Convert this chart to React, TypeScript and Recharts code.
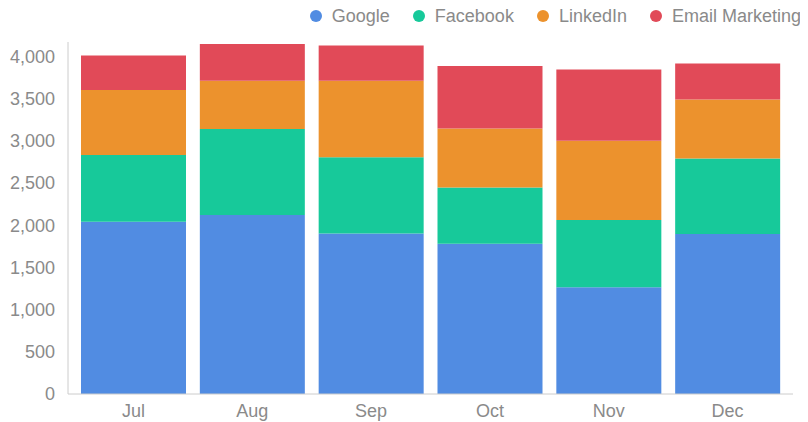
import React from "react";
import { BarChart, Bar, XAxis, YAxis } from "recharts";

const months = ["Jul", "Aug", "Sep", "Oct", "Nov", "Dec"];
const google = [2040, 2120, 1900, 1780, 1265, 1895];
const facebook = [790, 1020, 905, 665, 795, 895];
const linkedin = [770, 570, 905, 700, 940, 700];
const email = [410, 435, 420, 740, 845, 425];
const yTicks = [0, 500, 1000, 1500, 2000, 2500, 3000, 3500, 4000];

const seriesNames = ["Google", "Facebook", "LinkedIn", "Email Marketing"];
const seriesKeys = ["google", "facebook", "linkedin", "email"];
const colors = ["#518ce2", "#17c99a", "#ec922d", "#e14a58"];

const data = months.map((m, i) => ({
  month: m,
  google: google[i],
  facebook: facebook[i],
  linkedin: linkedin[i],
  email: email[i],
}));

const FONT = "'Liberation Sans', Arial, sans-serif";

export default function App() {
  return (
    <div style={{ position: "relative", width: 800, height: 414, fontFamily: FONT }}>
      <div
        style={{
          position: "absolute",
          top: -1,
          right: 7,
          display: "flex",
          alignItems: "center",
          fontSize: 18,
          lineHeight: "18px",
          color: "#8a8a8a",
          whiteSpace: "nowrap",
        }}
      >
        {seriesNames.map((n, i) => (
          <div key={n} style={{ display: "flex", alignItems: "center", marginLeft: i === 0 ? 0 : 23 }}>
            <span
              style={{
                width: 12,
                height: 12,
                borderRadius: 6,
                background: colors[i],
                display: "inline-block",
                marginRight: 10,
              }}
            />
            <span>{n}</span>
          </div>
        ))}
      </div>
      <BarChart
        width={800}
        height={414}
        data={data}
        margin={{ top: 34, right: 15, bottom: 0, left: 0 }}
        barCategoryGap={7}
      >
        <XAxis
          dataKey="month"
          height={28}
          padding={{ left: 6, right: 6 }}
          tickLine={false}
          tickSize={0}
          tickMargin={10}
          axisLine={{ stroke: "#cccccc" }}
          tick={{ fill: "#8a8a8a", fontSize: 18, fontFamily: FONT }}
        />
        <YAxis
          width={60}
          domain={[0, 4170]}
          ticks={yTicks}
          tickFormatter={(v: number) => v.toLocaleString("en-US")}
          tickLine={false}
          tickSize={0}
          tickMargin={13}
          axisLine={{ stroke: "#cccccc" }}
          tick={{ fill: "#8a8a8a", fontSize: 18, fontFamily: FONT }}
        />
        {seriesKeys.map((k, i) => (
          <Bar key={k} dataKey={k} stackId="a" fill={colors[i]} isAnimationActive={false} />
        ))}
      </BarChart>
    </div>
  );
}
